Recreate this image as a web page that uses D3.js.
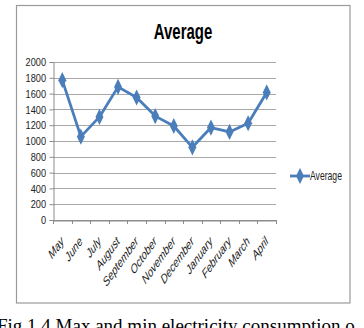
<!DOCTYPE html>
<html><head><meta charset="utf-8">
<script src="https://cdn.jsdelivr.net/npm/d3@7/dist/d3.min.js"></script>
<style>
html,body{margin:0;padding:0;background:#fff;}
svg{display:block;}
</style></head>
<body>
<svg id="c" width="364" height="328"></svg>
<script>
const months = ["May","June","July","August","September","October","November","December","January","February","March","April"];
const averageValues = [1770,1055,1305,1685,1550,1315,1190,920,1170,1115,1225,1615];
const yTicks = [0,200,400,600,800,1000,1200,1400,1600,1800,2000];
const seriesName = "Average";
const titleText = "Average";
const captionText = "Fig 1.4 Max and min electricity consumption o";

(function(){
const svg = d3.select("#c");
const sans = "'Liberation Sans',Arial,sans-serif";
const blue = "#4a7ebb";
const sx = 0.72;

svg.append("rect").attr("x",16.5).attr("y",5.5).attr("width",333.5).attr("height",297.5)
  .attr("fill","#fff").attr("stroke","#9a9a9a").attr("stroke-width",1.2);

const pl = 53, pr = 276, pt = 62, pb = 220;
const x = d3.scaleBand().domain(months).range([pl,pr]);
const y = d3.scaleLinear().domain([0,2000]).range([pb,pt]);
const cx = m => x(m)+x.bandwidth()/2;

svg.append("g").selectAll("line").data(yTicks).join("line")
  .attr("x1",pl).attr("x2",pr)
  .attr("y1",d=>Math.round(y(d))+0.5).attr("y2",d=>Math.round(y(d))+0.5)
  .attr("stroke",d=>d===0?"#8c8c8c":"#a8a8a8").attr("stroke-width",1);

const yAxis = svg.append("g").attr("transform",`translate(${pl+0.5},0)`)
  .call(d3.axisLeft(y).tickValues(yTicks).tickSize(4).tickFormat(""));
yAxis.select(".domain").attr("stroke","#8c8c8c");
yAxis.selectAll(".tick line").attr("stroke","#8c8c8c");
svg.append("g").selectAll("text").data(yTicks).join("text")
  .attr("transform",d=>`translate(46,${y(d)}) scale(0.8,1)`)
  .attr("text-anchor","end").attr("dy","0.36em")
  .attr("font-family",sans).attr("font-size",11.5).attr("fill","#222")
  .text(d3.format("d"));

const xAxis = svg.append("g").attr("transform",`translate(0,${Math.round(pb)+0.5})`)
  .call(d3.axisBottom(x).tickSize(0).tickFormat(""));
xAxis.select(".domain").attr("stroke","#8c8c8c");
const bounds = months.map(m=>x(m)).concat([pr]);
svg.append("g").selectAll("line").data(bounds).join("line")
  .attr("x1",d=>Math.round(d)+0.5).attr("x2",d=>Math.round(d)+0.5)
  .attr("y1",pb).attr("y2",pb+4).attr("stroke","#8c8c8c");

svg.append("g").selectAll("text").data(months).join("text")
  .attr("transform",d=>`translate(${cx(d)},${pb+19}) scale(${sx},1) rotate(-45)`)
  .attr("text-anchor","end").attr("dy","0.35em")
  .attr("font-family",sans).attr("font-style","italic").attr("font-size",13).attr("fill","#222")
  .text(d=>d);

const line = d3.line().x((d,i)=>cx(months[i])).y(d=>y(d));
svg.append("path").datum(averageValues).attr("d",line)
  .attr("fill","none").attr("stroke",blue).attr("stroke-width",2.8).attr("stroke-linejoin","round");

const diamond = d3.symbol().type(d3.symbolDiamond).size(75);
svg.append("g").selectAll("path").data(averageValues).join("path")
  .attr("transform",(d,i)=>`translate(${cx(months[i])},${y(d)}) scale(0.85,1)`)
  .attr("d",diamond).attr("fill",blue);

svg.append("text").attr("transform",`translate(183,39) scale(0.68,1)`).attr("text-anchor","middle")
  .attr("font-family",sans).attr("font-weight","bold").attr("font-size",22).attr("fill","#000")
  .text(titleText);

svg.append("line").attr("x1",290).attr("x2",310).attr("y1",176).attr("y2",176)
  .attr("stroke",blue).attr("stroke-width",2.8);
svg.append("path").attr("transform","translate(300,176) scale(0.85,1)").attr("d",diamond).attr("fill",blue);
svg.append("text").attr("transform",`translate(310,176) scale(${sx},1)`).attr("dy","0.36em")
  .attr("font-family",sans).attr("font-size",12).attr("fill","#222").text(seriesName);

svg.append("text").attr("x",-3).attr("y",332)
  .attr("font-family","'Liberation Serif','Times New Roman',serif").attr("font-size",19).attr("fill","#000")
  .text(captionText);
})();
</script>
</body></html>
